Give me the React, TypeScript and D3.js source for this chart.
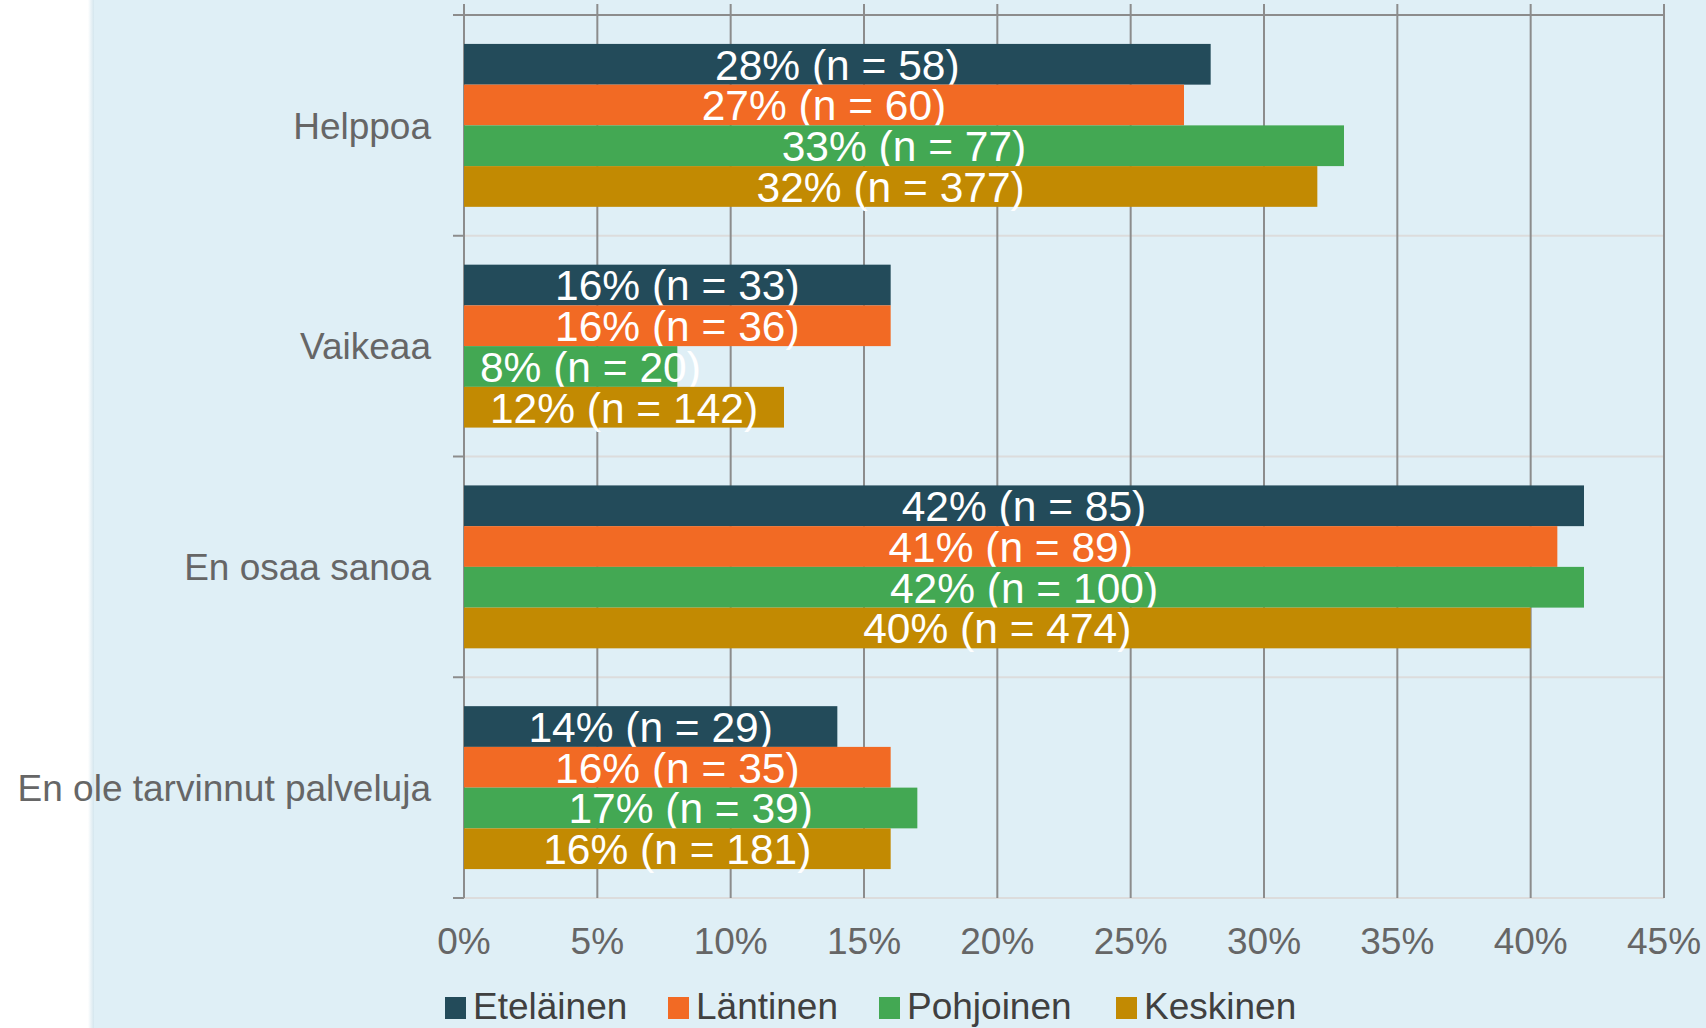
import React, { useLayoutEffect } from "react";
import * as d3 from "d3";

const categories = ["Helppoa", "Vaikeaa", "En osaa sanoa", "En ole tarvinnut palveluja"];
const seriesNames = ["Eteläinen", "Läntinen", "Pohjoinen", "Keskinen"];
const seriesColors = ["#234B5A", "#F26A24", "#43A853", "#C28A02"];
const percents = [
  [28, 16, 42, 14],
  [27, 16, 41, 16],
  [33, 8, 42, 17],
  [32, 12, 40, 16],
];
const counts = [
  [58, 33, 85, 29],
  [60, 36, 89, 35],
  [77, 20, 100, 39],
  [377, 142, 474, 181],
];
const xTicks = [0, 5, 10, 15, 20, 25, 30, 35, 40, 45];

const W = 1706;
const H = 1028;
const FONT = "'Liberation Sans', Arial, sans-serif";

let ctx: CanvasRenderingContext2D | null = null;
function textWidth(s: string, size: number) {
  if (!ctx) ctx = document.createElement("canvas").getContext("2d");
  if (!ctx) return s.length * size * 0.5;
  ctx.font = `${size}px 'Liberation Sans', Arial, sans-serif`;
  return ctx.measureText(s).width;
}

export default function App() {
  useLayoutEffect(() => {
    document.body.style.margin = "0";
  }, []);

  const x = d3.scaleLinear().domain([0, 45]).range([464, 1664]);
  const y = d3.scaleBand<string>().domain(categories).range([15, 898]).padding(0);
  const yInner = d3
    .scaleBand<string>()
    .domain(seriesNames)
    .range([0, y.bandwidth()])
    .paddingInner(0)
    .paddingOuter(0.71);

  const bounds = categories.map((c) => y(c)!).concat([898]);
  const labelSize = 42.5;
  const textSize = 37;

  const legendX = [445, 668, 879, 1116];

  return (
    <svg width={W} height={H} style={{ display: "block" }} fontFamily={FONT}>
      <defs>
        <linearGradient id="edge" x1="0" x2="1" y1="0" y2="0">
          <stop offset="0" stopColor="#ffffff" stopOpacity={1} />
          <stop offset="1" stopColor="#d4e6ee" stopOpacity={1} />
        </linearGradient>
      </defs>
      <rect x={0} y={0} width={W} height={H} fill="#ffffff" />
      <rect x={88} y={0} width={6} height={H} fill="url(#edge)" />
      <rect x={94} y={0} width={W - 94} height={H} fill="#DFEFF6" />

      {/* horizontal separators */}
      {bounds.map((b, i) => (
        <line
          key={"h" + i}
          x1={i === 0 ? 453 : 464}
          x2={x(45)}
          y1={b}
          y2={b}
          stroke={i === 0 ? "#8c8c8c" : "#dcdcdc"}
          strokeWidth={2}
        />
      ))}
      {/* left ticks */}
      {bounds.map((b, i) => (
        <line key={"t" + i} x1={453} x2={464} y1={b} y2={b} stroke="#8c8c8c" strokeWidth={2} />
      ))}
      {/* vertical gridlines */}
      {xTicks.map((t) => (
        <line key={"v" + t} x1={x(t)} x2={x(t)} y1={4} y2={898} stroke="#8c8c8c" strokeWidth={2} />
      ))}

      {/* bars */}
      {categories.map((c, ci) =>
        seriesNames.map((s, si) => {
          const v = percents[si][ci];
          const y0 = y(c)! + yInner(s)!;
          const bh = yInner.bandwidth();
          const x0 = x(0);
          const x1 = x(v);
          const label = `${v}% (n = ${counts[si][ci]})`;
          const tw = textWidth(label, labelSize);
          let cx = (x0 + x1) / 2;
          if (cx - tw / 2 < x0 + 16) cx = x0 + 16 + tw / 2;
          return (
            <g key={c + s}>
              <rect x={x0} y={y0} width={x1 - x0} height={bh} fill={seriesColors[si]} />
              <text
                x={cx}
                y={y0 + bh / 2 + labelSize * 0.36}
                textAnchor="middle"
                fontSize={labelSize}
                fill="#ffffff"
              >
                {label}
              </text>
            </g>
          );
        })
      )}

      {/* category labels */}
      {categories.map((c) => (
        <text
          key={"c" + c}
          x={431}
          y={y(c)! + y.bandwidth() / 2 + textSize * 0.36}
          textAnchor="end"
          fontSize={textSize}
          fill="#666666"
        >
          {c}
        </text>
      ))}

      {/* x tick labels */}
      {xTicks.map((t) => (
        <text key={"xl" + t} x={x(t)} y={954} textAnchor="middle" fontSize={textSize} fill="#666666">
          {t}%
        </text>
      ))}

      {/* legend */}
      {seriesNames.map((s, i) => (
        <g key={"l" + s}>
          <rect x={legendX[i]} y={997} width={21} height={22} fill={seriesColors[i]} />
          <text x={legendX[i] + 28} y={1019} fontSize={textSize} fill="#404040">
            {s}
          </text>
        </g>
      ))}
    </svg>
  );
}
